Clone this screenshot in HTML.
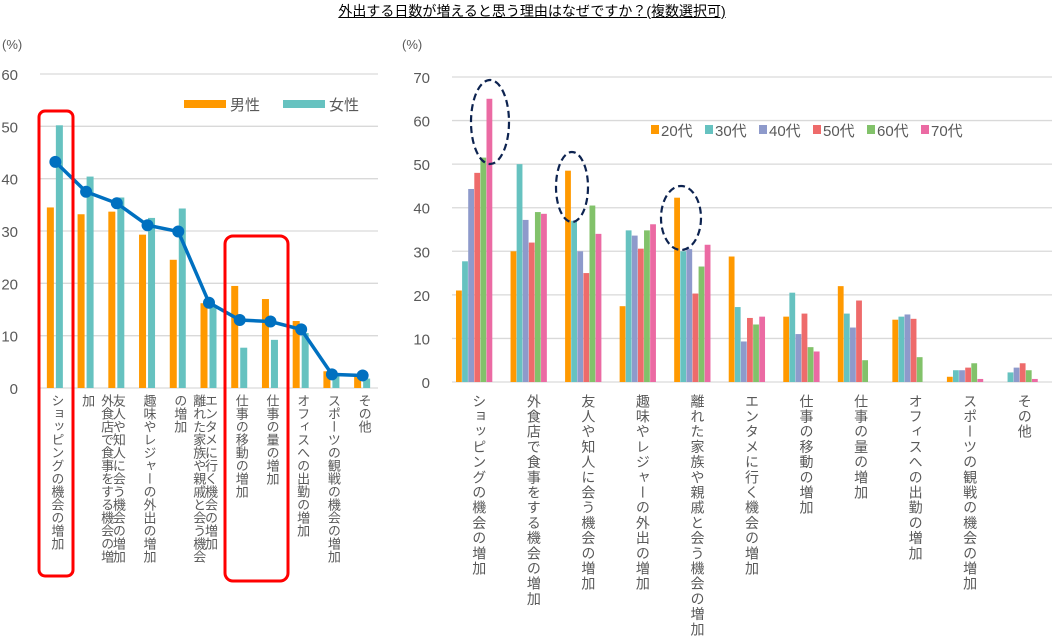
<!DOCTYPE html>
<html><head><meta charset="utf-8">
<style>
body{margin:0;background:#fff;width:1064px;height:637px;overflow:hidden;position:relative;font-family:"Liberation Sans","Noto Sans CJK JP",sans-serif;}
#title{position:absolute;left:0;width:1064px;top:1px;text-align:center;font-size:14px;color:#000;}
#title span{text-decoration:underline;}
.lbl{position:absolute;writing-mode:vertical-rl;color:#595959;white-space:normal;}
.ll{font-size:13px;height:172px;top:394px;}
.rl{font-size:14px;letter-spacing:1.2px;height:250px;top:394px;}
svg{position:absolute;left:0;top:0;}
</style></head><body>
<div id="title"><span>外出する日数が増えると思う理由はなぜですか？(複数選択可)</span></div>
<svg id="svg" width="1064" height="637"></svg>
<div id="labels"></div>
<script>
const categories=["ショッピングの機会の増加","外食店で食事をする機会の増加","友人や知人に会う機会の増加","趣味やレジャーの外出の増加","離れた家族や親戚と会う機会の増加","エンタメに行く機会の増加","仕事の移動の増加","仕事の量の増加","オフィスへの出勤の増加","スポーツの観戦の機会の増加","その他"];
const maleVals=[34.5,33.2,33.7,29.3,24.5,16.2,19.5,17,12.8,3.2,2.5];
const femaleVals=[50.2,40.4,36.4,32.5,34.3,15.5,7.7,9.2,10.5,2.5,1.8];
const totalVals=[43.2,37.5,35.3,31.1,29.9,16.3,13,12.7,11.2,2.6,2.4];
const leftTicks=[0,10,20,30,40,50,60];
const ageNames=["20代","30代","40代","50代","60代","70代"];
const age20=[21,30,48.5,17.4,42.3,28.8,15,22,14.3,1.2,0];
const age30=[27.7,50,37,34.8,30,17.2,20.5,15.7,15,2.7,2.2];
const age40=[44.3,37.2,30,33.6,30.5,9.3,11,12.5,15.5,2.7,3.3];
const age50=[48,32,25,30.6,20.3,14.7,15.7,18.7,14.5,3.3,4.3];
const age60=[51.5,39,40.5,34.8,26.5,13.2,8,5,5.7,4.3,2.7];
const age70=[65,38.6,34,36.2,31.5,15,7,0,0,0.7,0.7];
const rightTicks=[0,10,20,30,40,50,60,70];

const NS="http://www.w3.org/2000/svg";
const svg=document.getElementById('svg');
function mk(t,a,name){const e=document.createElementNS(NS,t);for(const k in a)e.setAttribute(k,a[k]);


svg.appendChild(e);return e;}
function txt(x,y,s,size,anchor,name,fill){const e=mk('text',{x:x,y:y,'font-size':size,'text-anchor':anchor,fill:fill||'#595959','font-family':'Liberation Sans, Noto Sans CJK JP, sans-serif'},name);e.textContent=s;return e;}

// LEFT chart
const L={x0:40,x1:378,y0:388,yTop:74,max:60};
const ly=v=>L.y0-(v/L.max)*(L.y0-L.yTop);
const lgw=(L.x1-L.x0)/categories.length;
leftTicks.forEach(t=>{mk('line',{x1:L.x0,x2:L.x1,y1:ly(t),y2:ly(t),stroke:'#d9d9d9','stroke-width':1.3},'left-gridline');
txt(18,ly(t)+6,String(t),15,'end','left-y-tick');});
txt(2,49,'(%)',13,'start','left-y-unit');
categories.forEach((c,i)=>{const cx=L.x0+lgw*(i+0.5);
mk('rect',{x:cx-8.5,y:ly(maleVals[i]),width:7,height:L.y0-ly(maleVals[i]),fill:'#ff9900'},'bar-male');
mk('rect',{x:cx+0.5,y:ly(femaleVals[i]),width:7,height:L.y0-ly(femaleVals[i]),fill:'#66c2c0'},'bar-female');
const d=document.createElement('div');d.className='lbl ll';d.style.left=(cx-8)+'px';d.textContent=c;


document.getElementById('labels').appendChild(d);});
let pts=totalVals.map((v,i)=>(L.x0+lgw*(i+0.5))+','+ly(v)).join(' ');
mk('polyline',{points:pts,fill:'none',stroke:'#0070c0','stroke-width':3.5},'total-line');
totalVals.forEach((v,i)=>mk('circle',{cx:L.x0+lgw*(i+0.5),cy:ly(v),r:6,fill:'#0070c0'},'total-point'));
// legend
mk('rect',{x:184,y:100,width:42,height:8,fill:'#ff9900'},'legend-male-swatch');
txt(230,110,'男性',15,'start','legend-male');
mk('rect',{x:283,y:100,width:42,height:8,fill:'#66c2c0'},'legend-female-swatch');
txt(329,110,'女性',15,'start','legend-female');
// red highlight boxes
mk('rect',{x:39,y:111,width:34,height:465,rx:6,fill:'none',stroke:'#ff0000','stroke-width':3},'highlight-box');
mk('rect',{x:225,y:236,width:63,height:345,rx:8,fill:'none',stroke:'#ff0000','stroke-width':3},'highlight-box');

// RIGHT chart
const R={x0:452,x1:1052,y0:382,yTop:77,max:70};
const ry=v=>R.y0-(v/R.max)*(R.y0-R.yTop);
const rgw=(R.x1-R.x0)/categories.length;
const series=[age20,age30,age40,age50,age60,age70];
const colors=['#ff9900','#66c2c0','#8e9acb','#ee6b6b','#82c26a','#eb6aa3'];
rightTicks.forEach(t=>{mk('line',{x1:R.x0,x2:R.x1,y1:ry(t),y2:ry(t),stroke:'#d9d9d9','stroke-width':1.3},'right-gridline');
txt(430,ry(t)+6,String(t),15,'end','right-y-tick');});
txt(402,49,'(%)',13,'start','right-y-unit');
const bw=6.1;
categories.forEach((c,i)=>{const gx=R.x0+rgw*i+4;
series.forEach((s,k)=>{mk('rect',{x:gx+k*bw,y:ry(s[i]),width:bw-0.3,height:R.y0-ry(s[i]),fill:colors[k]},'bar-'+ageNames[k]);});
const d=document.createElement('div');d.className='lbl rl';d.style.left=(R.x0+rgw*(i+0.5)-10)+'px';d.textContent=c;


document.getElementById('labels').appendChild(d);});
// right legend
ageNames.forEach((n,k)=>{const x=651+k*54;
mk('rect',{x:x,y:125,width:8,height:9,fill:colors[k]},'legend-swatch');
txt(x+10,136,n,15,'start','legend-'+n);});
// dashed ellipses
[[490,122,19,42],[572,187,16,35],[681,218,20,32]].forEach(e=>mk('ellipse',{cx:e[0],cy:e[1],rx:e[2],ry:e[3],fill:'none',stroke:'#0d2350','stroke-width':2.2,'stroke-dasharray':'7,4'},'highlight-ellipse'));
</script>
</body></html>
